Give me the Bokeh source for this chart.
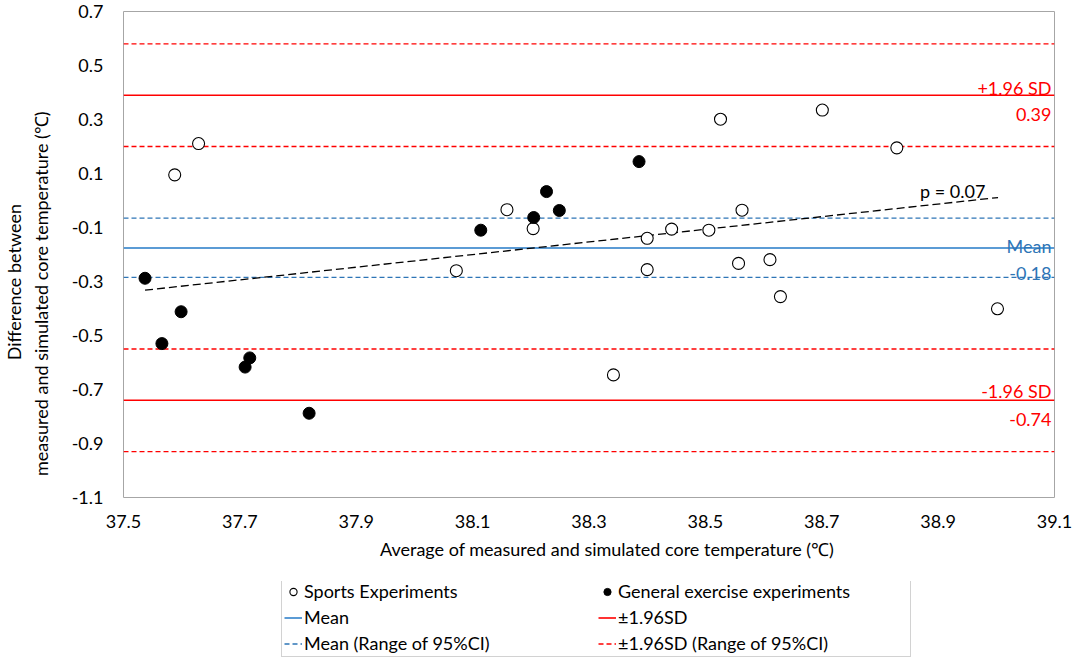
from bokeh.plotting import figure
from bokeh.layouts import column
from bokeh.models import (ColumnDataSource, Legend, LegendItem, FixedTicker, Range1d)
from bokeh.core.properties import value
from bokeh.embed import file_html
from bokeh.resources import INLINE

# ---- data ----
sports_x = [37.588, 37.629, 38.072, 38.159, 38.204, 38.342, 38.400, 38.400, 38.442,
            38.506, 38.526, 38.557, 38.563, 38.611, 38.629, 38.701, 38.829, 39.002]
sports_y = [0.095, 0.211, -0.260, -0.034, -0.104, -0.646, -0.140, -0.256, -0.106,
            -0.110, 0.301, -0.233, -0.036, -0.219, -0.356, 0.335, 0.195, -0.401]
general_x = [37.537, 37.566, 37.599, 37.709, 37.717, 37.819, 38.114, 38.205, 38.227, 38.249, 38.386]
general_y = [-0.288, -0.530, -0.412, -0.617, -0.583, -0.788, -0.110, -0.063, 0.033, -0.037, 0.144]

trend_x = [37.537, 39.003]
trend_y = [-0.332, 0.011]

mean_diff = -0.176
mean_ci = [-0.065, -0.285]
loa = [0.39, -0.74]
loa_ci = [0.58, 0.20, -0.55, -0.93]

x_ticks = [37.5, 37.7, 37.9, 38.1, 38.3, 38.5, 38.7, 38.9, 39.1]
x_tick_labels = ["37.5", "37.7", "37.9", "38.1", "38.3", "38.5", "38.7", "38.9", "39.1"]
y_ticks = [0.7, 0.5, 0.3, 0.1, -0.1, -0.3, -0.5, -0.7, -0.9, -1.1]
y_tick_labels = ["0.7", "0.5", "0.3", "0.1", "-0.1", "-0.3", "-0.5", "-0.7", "-0.9", "-1.1"]

ann_text = ["+1.96 SD", "0.39", "Mean", "-0.18", "-1.96 SD", "-0.74"]
ann_y = [0.39, 0.39, mean_diff, mean_diff, -0.74, -0.74]
ann_color = ["#FF0000", "#FF0000", "#2E75B6", "#2E75B6", "#FF0000", "#FF0000"]
ann_dy = [-7, 19, -2, 25, -9, 19]

p_text = ["p = 0.07"]
p_x = [38.869]
p_y = [0.037]

x_title = "Average of measured and simulated core temperature (\u2103)"
y_title_lines = ["Difference between", "measured and simulated core temperature (\u2103)"]

legend_labels = ["Sports Experiments", "General exercise experiments", "Mean",
                 "\u00b11.96SD", "Mean (Range of 95%CI)", "\u00b11.96SD (Range of 95%CI)"]

FONT = "Lato"
RED = "#FF0000"
BLUE_SOLID = "#5B9BD5"
BLUE_DASH = "#2E75B6"
NB = "\u00a0"

mean_style = dict(line_color=BLUE_SOLID, line_width=2)
mean_ci_style = dict(line_color=BLUE_DASH, line_width=1.3, line_dash="5 3")
loa_style = dict(line_color=RED, line_width=1.6)
loa_ci_style = dict(line_color=RED, line_width=1.3, line_dash="5 3")
sports_style = dict(size=12, marker="circle", fill_color="white", line_color="black", line_width=1.1)
general_style = dict(size=12, marker="circle", fill_color="black", line_color="black")

xs0 = [x_ticks[0]]
xs1 = [x_ticks[-1]]


def draw_series(fig):
    """Draw the agreement lines on a figure."""
    r_mean = fig.segment(x0=xs0, x1=xs1, y0=[mean_diff], y1=[mean_diff], **mean_style)
    r_mean_ci = fig.segment(x0=xs0 * 2, x1=xs1 * 2, y0=mean_ci, y1=mean_ci, **mean_ci_style)
    r_loa = fig.segment(x0=xs0 * 2, x1=xs1 * 2, y0=loa, y1=loa, **loa_style)
    r_loa_ci = fig.segment(x0=xs0 * 4, x1=xs1 * 4, y0=loa_ci, y1=loa_ci, **loa_ci_style)
    return r_mean, r_mean_ci, r_loa, r_loa_ci


def draw_points(fig):
    r_s = fig.scatter(sports_x, sports_y, **sports_style)
    r_g = fig.scatter(general_x, general_y, **general_style)
    return r_s, r_g


p = figure(width=1076, height=581, output_backend="svg", toolbar_location=None,
           x_range=Range1d(x_ticks[0], x_ticks[-1]),
           y_range=Range1d(y_ticks[-1], y_ticks[0]),
           min_border_left=111, min_border_right=22, min_border_top=11, min_border_bottom=84)
p.background_fill_color = "white"
p.border_fill_color = "white"
p.outline_line_color = "#A6A6A6"
p.outline_line_width = 1
p.grid.visible = False

draw_series(p)
p.line(trend_x, trend_y, line_color="black", line_width=1.3, line_dash="8 4")
draw_points(p)

ann_src = ColumnDataSource(dict(x=[x_ticks[-1]] * len(ann_text), y=ann_y, text=ann_text,
                                color=ann_color, dy=ann_dy))
p.text(x="x", y="y", text="text", source=ann_src, text_color="color", y_offset="dy",
       x_offset=-3, text_align="right", text_baseline="alphabetic",
       text_font=value(FONT), text_font_size="18px")
p.text(x=p_x, y=p_y, text=p_text, text_color="black", text_align="left",
       text_baseline="alphabetic", text_font=value(FONT), text_font_size="18px")

# axes
for ax, ticks, labels in ((p.xaxis[0], x_ticks, x_tick_labels), (p.yaxis[0], y_ticks, y_tick_labels)):
    ax.ticker = FixedTicker(ticks=ticks)
    ax.major_label_overrides = {t: l for t, l in zip(ticks, labels)}
    ax.axis_line_color = None
    ax.major_tick_out = 0
    ax.major_tick_in = 0
    ax.minor_tick_out = 0
    ax.minor_tick_in = 0
    ax.major_label_text_font = FONT
    ax.major_label_text_font_size = "18px"
    ax.major_label_text_color = "black"
    ax.axis_label_text_font = FONT
    ax.axis_label_text_font_size = "18px"
    ax.axis_label_text_font_style = "normal"
    ax.axis_label_text_color = "black"

# non-breaking spaces nudge the titles off-centre the way the reference places them
p.xaxis.axis_label = NB * 8 + x_title
p.xaxis.major_label_standoff = 17
p.xaxis.axis_label_standoff = 7
p.yaxis.axis_label = y_title_lines[0] + NB * 12 + "\n" + y_title_lines[1] + NB * 17
p.yaxis.major_label_standoff = 20
p.yaxis.axis_label_standoff = 17

# ---- legend strip below the chart (its renderers lie outside its visible range) ----
lg = figure(width=1076, height=76, output_backend="svg", toolbar_location=None,
            x_range=Range1d(0, 1), y_range=Range1d(0, 1),
            x_axis_location=None, y_axis_location=None,
            min_border_left=111, min_border_right=22, min_border_top=0, min_border_bottom=0)
lg.outline_line_color = None
lg.grid.visible = False
lg.background_fill_color = "white"
lg.border_fill_color = "white"

l_mean, l_mean_ci, l_loa, l_loa_ci = draw_series(lg)
l_sports, l_general = draw_points(lg)
rends = [l_sports, l_general, l_mean, l_loa, l_mean_ci, l_loa_ci]

legend = Legend(items=[LegendItem(label=l, renderers=[r]) for l, r in zip(legend_labels, rends)],
                orientation="horizontal", ncols=2, location=(158, 0))
legend.label_text_font = FONT
legend.label_text_font_size = "18px"
legend.label_text_color = "black"
legend.label_standoff = 2
legend.label_width = 290
legend.label_height = 21
legend.glyph_height = 21
legend.glyph_width = 18
legend.spacing = 4
legend.padding = 2
legend.margin = 0
legend.border_line_color = "#A6A6A6"
legend.border_line_width = 1
legend.background_fill_alpha = 1
lg.add_layout(legend, "center")

layout = column(p, lg, spacing=0)
open("out.html", "w").write(file_html(layout, INLINE))
